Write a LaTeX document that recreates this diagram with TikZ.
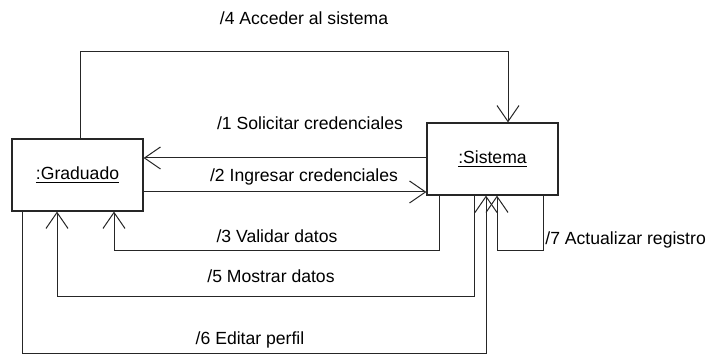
\documentclass[tikz,border=0pt]{standalone}
\usepackage{fontspec}
\setmainfont{Liberation Sans}
\usetikzlibrary{arrows.meta}
\tikzset{
  obj/.style={
    rectangle, draw=black!85, fill=white, line width=0.6pt,
    minimum width=65.5pt, minimum height=36pt, inner sep=0pt,
    font=\fontsize{8.8}{11}\selectfont
  },
  msg/.style={-{Straight Barb[length=8pt, width=11pt]}, line width=0.5pt, draw=black!85},
  msglabel/.style={font=\fontsize{8.8}{11}\selectfont, inner sep=0pt},
}
\begin{document}
\begin{tikzpicture}[x=0.5pt, y=-0.5pt]
  \useasboundingbox (0,0) rectangle (709,356);

  % objects
  \node[obj] (grad) at (77.5,175) {\raisebox{2pt}{\underline{:Graduado}}};
  \node[obj] (sis) at (492.5,159) {\raisebox{2pt}{\underline{:Sistema}}};

  % messages
  \draw[msg] (grad.north -| 80,0) -- (80,52) -| (sis.north -| 508,0);
  \draw[msg] (sis.west |- 0,158) -- (grad.east |- 0,158);
  \draw[msg] (grad.east |- 0,192) -- (sis.west |- 0,192);
  \draw[msg] (sis.south -| 439,0) -- (439,251) -| (grad.south -| 114,0);
  \draw[msg] (sis.south -| 474,0) -- (474,297) -| (grad.south -| 57,0);
  \draw[msg] (grad.south -| 22,0) -- (22,354) -| (sis.south -| 486,0);
  \draw[msg] (sis.south -| 543,0) -- (543,251) -| (sis.south -| 497,0);

  % labels
  \node[msglabel] (l4) at (304,18) {/4 Acceder al sistema};
  \node[msglabel] (l1) at (310,123) {/1 Solicitar credenciales};
  \node[msglabel] (l2) at (304,177) {/2 Ingresar credenciales};
  \node[msglabel] (l3) at (277,236) {/3 Validar datos};
  \node[msglabel] (l5) at (271,276) {/5 Mostrar datos};
  \node[msglabel] (l6) at (250,340) {/6 Editar perfil};
  \node[msglabel, anchor=west] (l7) at (545,240) {/7 Actualizar registro};
\end{tikzpicture}
\end{document}
